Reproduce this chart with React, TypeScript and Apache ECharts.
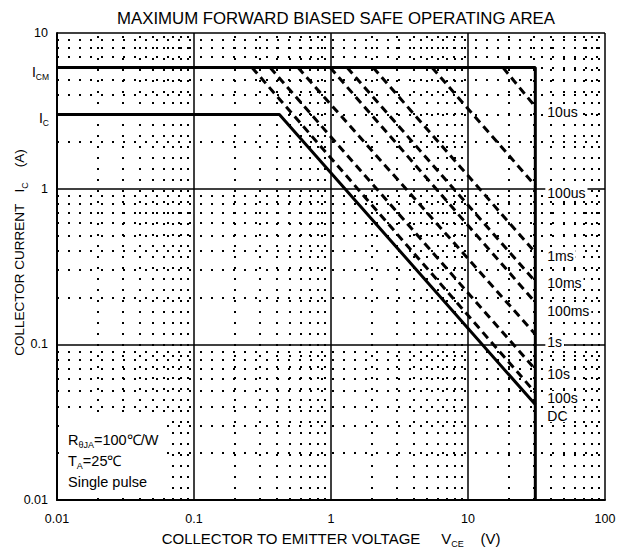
import React, { useEffect, useRef } from "react";
import * as echarts from "echarts";

const TITLE = "MAXIMUM FORWARD BIASED SAFE OPERATING AREA";
const X_MIN = 0.01;
const X_MAX = 100;
const Y_MIN = 0.01;
const Y_MAX = 10;
const xDecades = [0.01, 0.1, 1, 10];
const yDecades = [0.01, 0.1, 1];
const minorMultipliers = [2, 3, 4, 5, 6, 7, 8, 9];

const ICM = 6;
const IC = 3;
const VCE_MAX = 31;
const DC_KNEE_V = 0.42;
const DC_END_I = 0.041;

const pulseLabels = ["10us", "100us", "1ms", "10ms", "100ms", "1s", "10s", "100s"];
const pulseStartV = [18.0, 5.46, 2.03, 1.31, 0.985, 0.574, 0.359, 0.265];
const pulseEndI = [3.36, 1.045, 0.389, 0.253, 0.186, 0.116, 0.069, 0.049];
const labelDy = [5, 7, 4, 1, 9, 8, 5, 5];
const DC_LABEL = "DC";

const FONT = "Liberation Sans, Arial, sans-serif";

export default function App() {
  const ref = useRef<HTMLDivElement>(null);
  useEffect(() => {
    if (!ref.current) return;
    const chart = echarts.init(ref.current, null, { renderer: "svg" });

    const minorX: number[] = [];
    xDecades.forEach((d) => minorMultipliers.forEach((m) => minorX.push(+(d * m).toPrecision(3))));
    const minorY: number[] = [];
    yDecades.forEach((d) => minorMultipliers.forEach((m) => minorY.push(+(d * m).toPrecision(3))));

    const dotStyle = { color: "#000", width: 2, type: [2, 9] as any, cap: "butt" as any, opacity: 1 };

    const rich = {
      n: { fontSize: 14, fontFamily: FONT, color: "#000" },
      s: { fontSize: 8.5, fontFamily: FONT, color: "#000", padding: [10, 0, 0, 0] },
    };
    const richX = {
      n: { fontSize: 15, fontFamily: FONT, color: "#000" },
      s: { fontSize: 9, fontFamily: FONT, color: "#000", padding: [10, 0, 0, 0] },
    };
    const richY = {
      n: { fontSize: 13.5, fontFamily: FONT, color: "#000" },
      s: { fontSize: 9, fontFamily: FONT, color: "#000", padding: [10, 0, 0, 0] },
    };

    const series: any[] = [];
    // minor dotted grid
    series.push({
      type: "line",
      data: [],
      silent: true,
      markLine: {
        silent: true,
        symbol: "none",
        animation: false,
        label: { show: false },
        lineStyle: dotStyle,
        data: [
          ...minorX.map((v) => ({ xAxis: v })),
          ...minorY.map((v) => ({ yAxis: v })),
        ],
      },
    });
    // pulse lines
    pulseLabels.forEach((name, i) => {
      series.push({
        type: "line",
        name,
        data: [
          [pulseStartV[i], ICM],
          [VCE_MAX, pulseEndI[i]],
        ],
        symbol: "none",
        lineStyle: { color: "#000", width: 3, type: [8, 5] },
        z: 3,
      });
    });
    // ICM + Vmax boundary
    series.push({
      type: "line",
      data: [
        [X_MIN, ICM],
        [VCE_MAX, ICM],
        [VCE_MAX, Y_MIN],
      ],
      symbol: "none",
      lineStyle: { color: "#000", width: 3 },
      z: 4,
    });
    // DC boundary
    series.push({
      type: "line",
      data: [
        [X_MIN, IC],
        [DC_KNEE_V, IC],
        [VCE_MAX, DC_END_I],
      ],
      symbol: "none",
      lineStyle: { color: "#000", width: 3 },
      z: 4,
    });
    // right labels
    series.push({
      type: "scatter",
      symbolSize: 0,
      z: 5,
      itemStyle: { opacity: 1 },
      data: [
        ...pulseLabels.map((name, i) => ({
          value: [VCE_MAX, pulseEndI[i]],
          label: { formatter: name, offset: [5, labelDy[i]] },
        })),
        { value: [VCE_MAX, DC_END_I], label: { formatter: DC_LABEL, offset: [5, 11] } },
      ],
      label: {
        show: true,
        position: "right",
        fontSize: 14,
        lineHeight: 13,
        fontFamily: FONT,
        color: "#000",
        opacity: 1,
        backgroundColor: "#fff",
        padding: [0, 2, 0, 2],
      },
    });
    // y-axis special labels
    series.push({
      type: "scatter",
      symbolSize: 0,
      z: 5,
      itemStyle: { opacity: 1 },
      data: [
        { value: [X_MIN, ICM], label: { formatter: "{n|I}{s|CM}" } },
        { value: [X_MIN, IC], label: { formatter: "{n|I}{s|C}" } },
      ],
      label: { show: true, position: "left", distance: 8, offset: [0, 4], rich, opacity: 1 },
    });

    chart.setOption({
      animation: false,
      backgroundColor: "#fff",
      title: {
        text: TITLE,
        left: 331,
        textAlign: "center",
        top: 5,
        textStyle: { fontSize: 16.8, fontWeight: "normal", fontFamily: FONT, color: "#000" },
      },
      grid: { left: 57, right: 15, top: 33, bottom: 51, outerBoundsMode: "none", containLabel: false },
      xAxis: {
        type: "log",
        logBase: 10,
        min: X_MIN,
        max: X_MAX,
        axisLine: { show: true, lineStyle: { color: "#000", width: 2 } },
        axisTick: { show: false },
        axisLabel: { fontSize: 12.5, fontFamily: FONT, color: "#000", margin: 12 },
        splitLine: { show: true, lineStyle: { color: "#000", width: 1.5 } },
        name: "{n|COLLECTOR TO EMITTER VOLTAGE}{n|     V}{s|CE}{n|    (V)}",
        nameLocation: "middle",
        nameGap: 29,
        nameMoveOverlap: false,
        nameTextStyle: { rich: richX },
      },
      yAxis: {
        type: "log",
        logBase: 10,
        min: Y_MIN,
        max: Y_MAX,
        axisLine: { show: true, lineStyle: { color: "#000", width: 2 } },
        axisTick: { show: false },
        axisLabel: { fontSize: 12.5, fontFamily: FONT, color: "#000", margin: 9 },
        splitLine: { show: true, lineStyle: { color: "#000", width: 1.5 } },
        name: "{n|COLLECTOR CURRENT}{n|   I}{s|C}{n|    (A)}",
        nameLocation: "middle",
        nameGap: 28,
        nameMoveOverlap: false,
        nameTextStyle: { rich: richY, padding: [0, 0, 0, 28] },
      },
      graphic: [
        {
          type: "rect",
          z: 10,
          shape: { x: 59, y: 416, width: 108, height: 82 },
          style: { fill: "#fff" },
        },
        {
          type: "text",
          z: 11,
          left: 68,
          top: 431,
          style: {
            text: "{n|R}{s|θJA}{n|=100℃/W}\n{n|T}{s|A}{n|=25℃}\n{n|Single pulse}",
            rich: {
              n: { fontSize: 14.5, fontFamily: FONT, color: "#000", lineHeight: 21 },
              s: { fontSize: 9, fontFamily: FONT, color: "#000", lineHeight: 21, padding: [9, 0, 0, 0] },
            },
          },
        },
      ],
      series,
    });
    return () => chart.dispose();
  }, []);
  return <div ref={ref} style={{ width: 620, height: 551, position: "absolute", left: 0, top: 0 }} />;
}
